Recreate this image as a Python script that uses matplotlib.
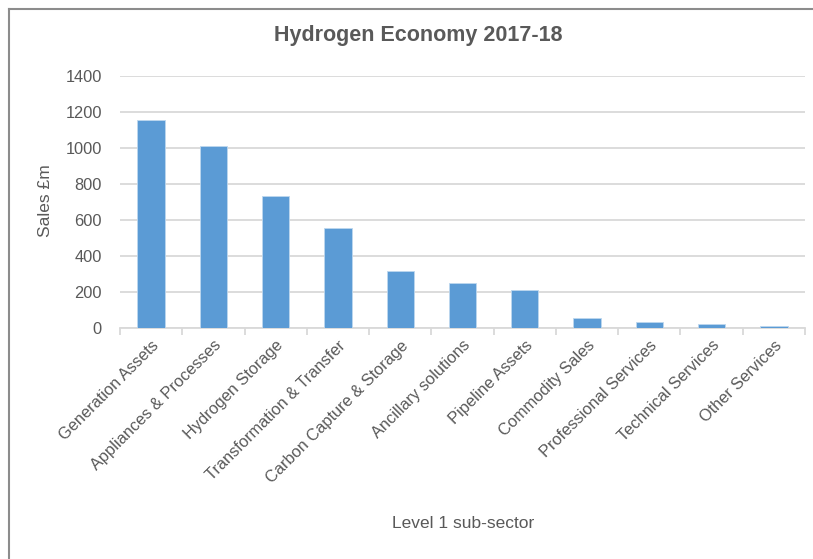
import matplotlib
matplotlib.use("Agg")
import matplotlib.pyplot as plt
from matplotlib.lines import Line2D

# data
categories = ["Generation Assets", "Appliances & Processes", "Hydrogen Storage",
              "Transformation & Transfer", "Carbon Capture & Storage",
              "Ancillary solutions", "Pipeline Assets", "Commodity Sales",
              "Professional Services", "Technical Services", "Other Services"]
sales = [1156, 1013, 736, 556, 317, 252, 213, 53, 32, 21, 11]
yticks = [0, 200, 400, 600, 800, 1000, 1200, 1400]

bar_col = "#5b9bd5"
txt_col = "#595959"
grid_col = "#d9d9d9"

plt.rcParams['font.family'] = ['Liberation Sans', 'DejaVu Sans']

W, H = 813, 559
fig = plt.figure(figsize=(W/100, H/100), dpi=100)
fig.patch.set_facecolor("white")

ax = fig.add_axes([120/W, 1-328/H, (805-120)/W, (328-76)/H])
x = range(len(categories))
ax.bar(x, sales, width=0.44, color=bar_col, edgecolor="#bdd7ee", linewidth=0.6, zorder=3)

ax.set_xlim(-0.5, len(categories)-0.5)
ax.set_ylim(0, 1400)
ax.set_yticks(yticks)
ax.set_yticklabels([str(v) for v in yticks])
ax.yaxis.grid(True, color=grid_col, linewidth=1.3, zorder=0)
ax.tick_params(axis="y", length=0, pad=13, labelsize=11.8, labelcolor=txt_col)

ax.set_xticks(list(x))
ax.set_xticklabels(categories, rotation=45, ha="right", rotation_mode="anchor",
                   fontsize=11.8, color=txt_col)
ax.tick_params(axis="x", which="major", length=0, pad=7)
ax.set_xticks([i-0.5 for i in range(len(categories)+1)], minor=True)
ax.tick_params(axis="x", which="minor", length=5, color=grid_col, width=1.3)

for s in ["top", "right", "left"]:
    ax.spines[s].set_visible(False)
ax.spines["bottom"].set_color(grid_col)
ax.spines["bottom"].set_linewidth(1.3)

fig.text(418/W, 1-36/H, "Hydrogen Economy 2017-18", ha="center", va="center",
         fontsize=15.5, color=txt_col, fontweight="bold")
fig.text(45/W, 1-201/H, "Sales £m", ha="center", va="center", rotation=90,
         fontsize=12.5, color=txt_col)
fig.text(463/W, 1-523/H, "Level 1 sub-sector", ha="center", va="center",
         fontsize=12.5, color=txt_col)

# chart frame (only left and top edges are visible in the screenshot)
fig.add_artist(Line2D([9/W, 9/W], [0, 1-9/H], transform=fig.transFigure,
                      color="#8c8c8c", linewidth=1.5))
fig.add_artist(Line2D([9/W, 1], [1-9/H, 1-9/H], transform=fig.transFigure,
                      color="#8c8c8c", linewidth=1.5))

fig.savefig("out.png", dpi=100, facecolor="white")
